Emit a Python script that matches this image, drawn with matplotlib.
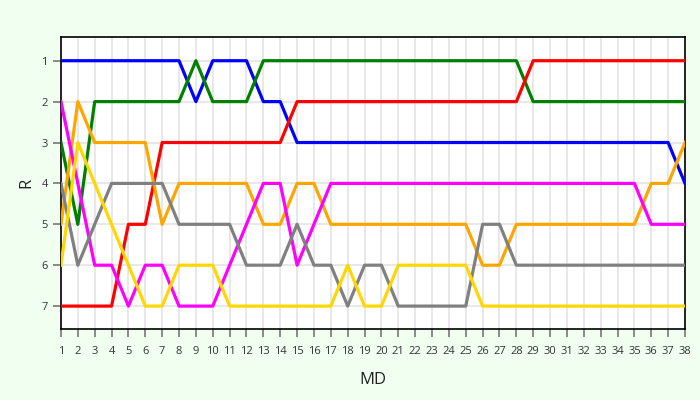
import matplotlib.pyplot as plt

# Matchdays and ranks per team
matchdays = list(range(1, 39))

blue = [1, 1, 1, 1, 1, 1, 1, 1, 2, 1, 1, 1, 2, 2, 3, 3, 3, 3, 3, 3,
        3, 3, 3, 3, 3, 3, 3, 3, 3, 3, 3, 3, 3, 3, 3, 3, 3, 4]
green = [3, 5, 2, 2, 2, 2, 2, 2, 1, 2, 2, 2, 1, 1, 1, 1, 1, 1, 1, 1,
         1, 1, 1, 1, 1, 1, 1, 1, 2, 2, 2, 2, 2, 2, 2, 2, 2, 2]
red = [7, 7, 7, 7, 5, 5, 3, 3, 3, 3, 3, 3, 3, 3, 2, 2, 2, 2, 2, 2,
       2, 2, 2, 2, 2, 2, 2, 2, 1, 1, 1, 1, 1, 1, 1, 1, 1, 1]
orange = [5, 2, 3, 3, 3, 3, 5, 4, 4, 4, 4, 4, 5, 5, 4, 4, 5, 5, 5, 5,
          5, 5, 5, 5, 5, 6, 6, 5, 5, 5, 5, 5, 5, 5, 5, 4, 4, 3]
magenta = [2, 4, 6, 6, 7, 6, 6, 7, 7, 7, 6, 5, 4, 4, 6, 5, 4, 4, 4, 4,
           4, 4, 4, 4, 4, 4, 4, 4, 4, 4, 4, 4, 4, 4, 4, 5, 5, 5]
gray = [4, 6, 5, 4, 4, 4, 4, 5, 5, 5, 5, 6, 6, 6, 5, 6, 6, 7, 6, 6,
        7, 7, 7, 7, 7, 5, 5, 6, 6, 6, 6, 6, 6, 6, 6, 6, 6, 6]
yellow = [6, 3, 4, 5, 6, 7, 7, 6, 6, 6, 7, 7, 7, 7, 7, 7, 7, 6, 7, 7,
          6, 6, 6, 6, 6, 7, 7, 7, 7, 7, 7, 7, 7, 7, 7, 7, 7, 7]

series = [
    (blue, "#0000ff"),
    (green, "#008000"),
    (red, "#ff0000"),
    (orange, "#ffa500"),
    (magenta, "#ff00ff"),
    (gray, "#808080"),
    (yellow, "#ffd700"),
]

plt.rcParams["font.family"] = ["Open Sans", "DejaVu Sans"]

fig = plt.figure(figsize=(7, 4), dpi=100, facecolor="#f0fff0")
ax = fig.add_axes([0.0871, 0.1775, 0.8915, 0.73])
ax.set_facecolor("white")

for values, color in series:
    ax.plot(matchdays, values, color=color, linewidth=2.3, zorder=3)

ax.set_xlim(1, 38)
ax.set_ylim(7.56, 0.42)
ax.set_xticks(matchdays)
ax.set_yticks(range(1, 8))
ax.grid(True, color="#e6e6e6", linewidth=1.3, zorder=0)

ax.tick_params(axis="both", colors="#777777", length=6, width=1.2,
               labelsize=8, labelcolor="#333333")
ax.tick_params(axis="x", pad=6)
for spine in ax.spines.values():
    spine.set_color("black")
    spine.set_linewidth(1.2)

ax.set_xlabel("MD", fontsize=12, color="#222222", labelpad=11)
ax.set_ylabel("R", fontsize=12, color="#222222", labelpad=5)

plt.savefig("out.png", dpi=100, facecolor=fig.get_facecolor())
